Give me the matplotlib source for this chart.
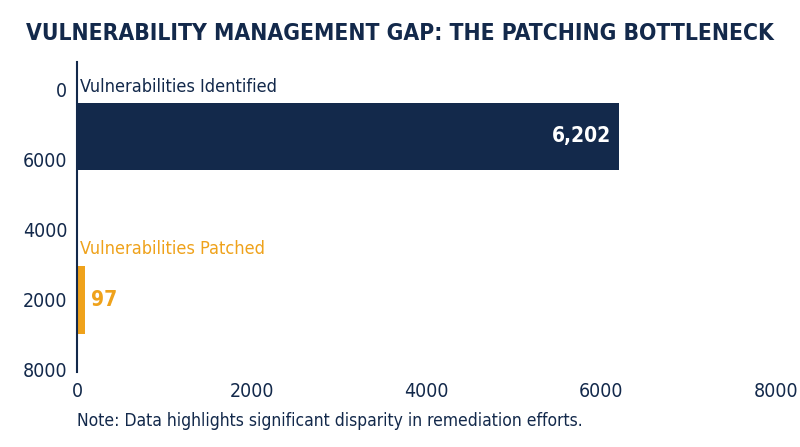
import matplotlib
matplotlib.use('Agg')
import matplotlib.pyplot as plt

categories = ['Vulnerabilities Identified', 'Vulnerabilities Patched']
values = [6202, 97]
value_labels = ['6,202', '97']
ytick_labels = ['0', '6000', '4000', '2000', '8000']
xtick_values = [0, 2000, 4000, 6000, 8000]

navy = '#13294B'
orange = '#EFA21B'

plt.rcParams['font.family'] = ['DejaVu Sans']
plt.rcParams['font.stretch'] = 'condensed'

fig = plt.figure(figsize=(8, 4.47), dpi=100)
ax = fig.add_axes([77 / 800, 1 - 372 / 447, (776 - 77) / 800, (372 - 62) / 447])

bar_pos = [0.66, 3.0]
colors = [navy, orange]
ax.barh(bar_pos, values, height=0.96, color=colors)

ax.set_xlim(0, 8000)
ax.set_ylim(4.03, -0.4)
ax.set_xticks(xtick_values)
ax.set_xticklabels([str(v) for v in xtick_values])
ax.set_yticks(range(len(ytick_labels)))
ax.set_yticklabels(ytick_labels)
ax.tick_params(length=0, labelsize=14, colors=navy, pad=7)
for s in ['top', 'right', 'bottom']:
    ax.spines[s].set_visible(False)
ax.spines['left'].set_color(navy)
ax.spines['left'].set_linewidth(1.5)

# category labels above bars
ax.text(40, bar_pos[0] - 0.7, categories[0], color=navy, fontsize=13, va='center', ha='left')
ax.text(40, bar_pos[1] - 0.73, categories[1], color=orange, fontsize=13, va='center', ha='left')

# value labels
ax.text(values[0] - 90, bar_pos[0], value_labels[0], color='white', fontsize=15,
        fontweight='bold', va='center', ha='right')
ax.text(values[1] + 60, bar_pos[1], value_labels[1], color=orange, fontsize=15,
        fontweight='bold', va='center', ha='left')

fig.text(0.5, 1 - 34 / 447, 'VULNERABILITY MANAGEMENT GAP: THE PATCHING BOTTLENECK',
         ha='center', va='center', fontsize=16.4, fontweight='bold', color=navy)
fig.text(77 / 800, 1 - 421 / 447, 'Note: Data highlights significant disparity in remediation efforts.',
         ha='left', va='center', fontsize=12.5, color=navy)

fig.savefig('out.png', dpi=100)
